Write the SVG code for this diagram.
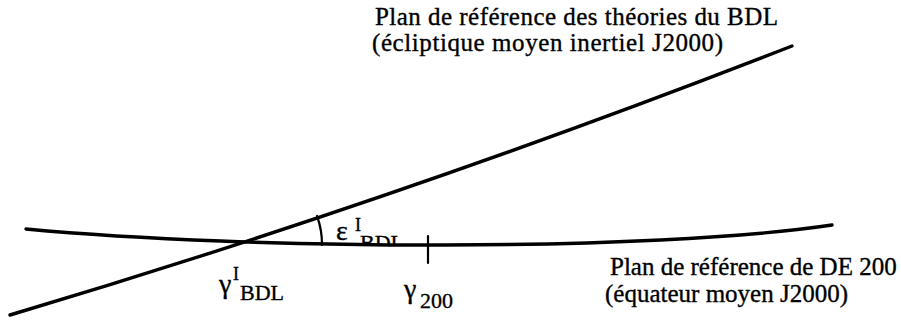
<svg xmlns="http://www.w3.org/2000/svg" width="901" height="320" viewBox="0 0 901 320">
<style>
  .ln { fill: none; stroke: #000; stroke-linecap: round; }
  .thick { stroke-width: 3.4; }
  .thin { stroke-width: 2.2; }
  .t { font-family: "Liberation Serif", "Times New Roman", serif; fill: #000; stroke: #000; stroke-width: 0.35; }
  .lab { font-size: 25px; }
  .gr { font-size: 28px; }
  .sub { font-size: 22px; }
  .sup { font-size: 18px; }
</style>
<defs>
  <clipPath id="aboveLine"><rect x="300" y="150" width="120" height="94"/></clipPath>
</defs>
<rect width="901" height="320" fill="#fff"/>
<g id="planes">
  <path id="ecliptic" class="ln thick" d="M 10 315 Q 400 199 792 46"/>
  <path id="equator" class="ln thick" d="M 26 229 C 250 250 650 252 832 225"/>
  <path id="angle-arc" class="ln thin" d="M 322 245 A 82 82 0 0 0 317 216"/>
  <path id="tick-200" class="ln thin" d="M 428 236 L 428 263"/>
</g>
<g id="label-ecliptic" class="t lab">
  <text x="375" y="25" textLength="403" lengthAdjust="spacing">Plan de référence des théories du BDL</text>
  <text x="372" y="51" textLength="351" lengthAdjust="spacing">(écliptique moyen inertiel J2000)</text>
</g>
<g id="label-equator" class="t lab">
  <text x="610" y="275">Plan de référence de DE 200</text>
  <text x="605" y="302">(équateur moyen J2000)</text>
</g>
<g id="label-epsilon" class="t">
  <text x="336" y="240" class="gr">ε</text>
  <text x="355" y="231" class="sup">I</text>
  <text x="360" y="250" class="sub" clip-path="url(#aboveLine)">BDL</text>
</g>
<g id="label-gamma-bdl" class="t">
  <text x="219" y="293" class="gr">γ</text>
  <text x="233" y="280" class="sup">I</text>
  <text x="240" y="300" class="sub">BDL</text>
</g>
<g id="label-gamma-200" class="t">
  <text x="404" y="298" class="gr">γ</text>
  <text x="420" y="308" class="sub">200</text>
</g>
</svg>
